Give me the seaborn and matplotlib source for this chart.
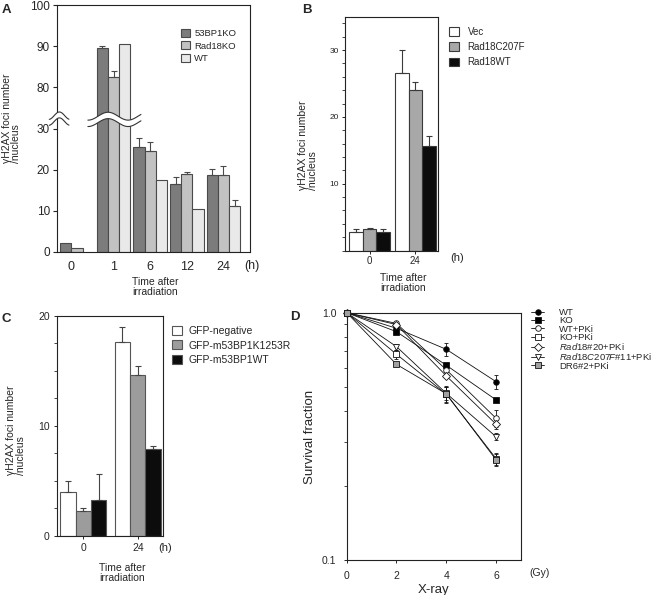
import numpy as np
import pandas as pd
import matplotlib
matplotlib.use("Agg")
import matplotlib.pyplot as plt
from matplotlib.patches import Polygon
from matplotlib.ticker import FixedLocator, NullFormatter, FixedFormatter
import seaborn as sns

sns.set_style("ticks")
plt.rcParams["font.family"] = ["Liberation Sans", "DejaVu Sans"]
plt.rcParams["mathtext.fontset"] = "custom"
plt.rcParams["mathtext.it"] = "Liberation Sans:italic"
plt.rcParams["mathtext.rm"] = "Liberation Sans"
plt.rcParams["axes.linewidth"] = 0.8
plt.rcParams["axes.edgecolor"] = "#222222"

# ---------------- data ----------------
# Panel A
a_times = ["0", "1", "6", "12", "24"]
a_groups = ["53BP1KO", "Rad18KO", "WT"]
a_53bp1ko = [2.1, 89.6, 25.4, 16.5, 18.6]
a_rad18ko = [0.9, 82.6, 24.6, 18.9, 18.6]
a_wt = [np.nan, 90.6, 17.4, 10.3, 11.2]
a_53bp1ko_err = [0.0, 0.6, 2.4, 1.8, 1.6]
a_rad18ko_err = [0.0, 1.4, 2.0, 0.6, 2.2]
a_wt_err = [0.0, 0.0, 0.0, 0.0, 1.5]
a_yticks = [0, 10, 20, 30, 80, 90, 100]

# Panel B
b_times = ["0", "24"]
b_groups = ["Vec", "Rad18C207F", "Rad18WT"]
b_vec = [2.8, 26.5]
b_c207f = [3.2, 24.0]
b_wt = [2.8, 15.7]
b_vec_err = [0.4, 3.5]
b_c207f_err = [0.2, 1.2]
b_wt_err = [0.4, 1.5]

# Panel C
c_times = ["0", "24"]
c_groups = ["GFP-negative", "GFP-m53BP1K1253R", "GFP-m53BP1WT"]
c_neg = [3.96, 17.6]
c_k1253r = [2.28, 14.6]
c_wt = [3.26, 7.9]
c_neg_err = [1.05, 1.4]
c_k1253r_err = [0.22, 0.8]
c_wt_err = [2.35, 0.3]

# Panel D
d_dose = [0, 2, 4, 6]
d_labels = ["WT", "KO", "WT+PKi", "KO+PKi",
            r"$\mathit{Rad18}$#20+PKi", r"$\mathit{Rad18C207F}$#11+PKi", "DR6#2+PKi"]
d_wt = [1.0, 0.865, 0.711, 0.526]
d_ko = [1.0, 0.838, 0.613, 0.444]
d_wt_pki = [1.0, 0.905, 0.588, 0.374]
d_ko_pki = [1.0, 0.679, 0.468, 0.257]
d_rad18_20 = [1.0, 0.895, 0.555, 0.354]
d_c207f_11 = [1.0, 0.729, 0.472, 0.315]
d_dr6 = [1.0, 0.618, 0.470, 0.254]
d_wt_err = [0, 0, 0.04, 0.035]
d_ko_err = [0, 0.01, 0.015, 0]
d_wt_pki_err = [0, 0, 0, 0.03]
d_ko_pki_err = [0, 0.03, 0.035, 0.015]
d_rad18_20_err = [0, 0, 0, 0.015]
d_c207f_11_err = [0, 0.02, 0.03, 0.01]
d_dr6_err = [0, 0, 0.035, 0.015]

# ---------------- figure ----------------
W, H = 669, 595
fig = plt.figure(figsize=(W / 100, H / 100), dpi=100)


def rect(l, r, t, b):
    return [l / W, 1 - b / H, (r - l) / W, (b - t) / H]


def fx(px):
    return px / W


def fy(py):
    return 1 - py / H


def long_df(cats, groups, series):
    rows = []
    for g, vals in zip(groups, series):
        for c, v in zip(cats, vals):
            rows.append({"time": c, "group": g, "value": v})
    return pd.DataFrame(rows)


def bar_panel(ax, cats, groups, series, errs, palette, width, edge, ecolor):
    df = long_df(cats, groups, series).dropna()
    sns.barplot(data=df, x="time", y="value", hue="group", order=cats,
                hue_order=groups, palette=palette, saturation=1, width=width,
                edgecolor=edge, linewidth=0.8, errorbar=None, ax=ax, zorder=2)
    for cont, g in zip(ax.containers, groups):
        e_list = errs[groups.index(g)]
        for bar in cont:
            cx = bar.get_x() + bar.get_width() / 2
            ci = int(round(cx))
            e = e_list[ci]
            if e > 0:
                ax.errorbar(cx, bar.get_height(), yerr=[[0], [e]], fmt="none",
                            ecolor=ecolor, elinewidth=0.8, capsize=2,
                            capthick=0.8, zorder=3)


# ---------------- Panel A ----------------
def fwd(v):
    v = np.asarray(v, dtype=float)
    return np.where(v <= 30, v, np.where(v >= 80, v - 40, 30 + (v - 30) * 0.2))


def inv(d):
    d = np.asarray(d, dtype=float)
    return np.where(d <= 30, d, np.where(d >= 40, d + 40, 30 + (d - 30) * 5))


axA = fig.add_axes(rect(57, 250, 5.3, 251.7))
axA.set_yscale("function", functions=(fwd, inv))
bar_panel(axA, a_times, a_groups, [a_53bp1ko, a_rad18ko, a_wt],
          [a_53bp1ko_err, a_rad18ko_err, a_wt_err],
          {"53BP1KO": "#7c7c7c", "Rad18KO": "#c2c2c2", "WT": "#e9e9e9"},
          0.92, "#4a4a4a", "#4a4a4a")
axA.set_ylim(0, 100)
axA.set_xlim(-0.55, 4.73)
axA.yaxis.set_major_locator(FixedLocator(a_yticks))
axA.yaxis.set_major_formatter(FixedFormatter([str(t) for t in a_yticks]))
axA.yaxis.set_minor_locator(FixedLocator([]))
axA.set_xticks([-0.16, 1, 2, 3, 4])
axA.set_xticklabels(a_times)
axA.tick_params(axis="y", labelsize=8.5, length=3, width=0.8, pad=2)
axA.tick_params(axis="x", labelsize=9, length=0, pad=7)
axA.set_xlabel("")
axA.set_ylabel("")
sns.move_legend(axA, "upper left", bbox_to_anchor=(0.645, 0.905), title=None,
                frameon=False, fontsize=6.8, handlelength=0.9, handleheight=0.9,
                handletextpad=0.45, labelspacing=0.38, borderpad=0, borderaxespad=0)
axA.text(1.01, -0.058, "(h)", transform=axA.transAxes, ha="center", va="center", fontsize=9)
axA.text(0.508, -0.145, "Time after\nirradiation", transform=axA.transAxes,
         ha="center", va="center", fontsize=7.5, linespacing=1.0)


def squiggle(ax, x0, x1, yc, amp, half, period, phase):
    xs = np.linspace(x0, x1, 120)
    base = yc + amp * np.sin(2 * np.pi * (xs - phase) / period)
    verts = np.column_stack([np.r_[xs, xs[::-1]], np.r_[base - half, (base + half)[::-1]]])
    ax.add_patch(Polygon(verts, closed=True, facecolor="white", edgecolor="none",
                         transform=ax.transAxes, zorder=6, clip_on=False))
    for s in (-half, half):
        ax.plot(xs, base + s, color="#333333", lw=0.8, transform=ax.transAxes,
                zorder=7, clip_on=False)


squiggle(axA, 0.16, 0.435, 0.537, 0.016, 0.013, 0.207, 0.213)
squiggle(axA, -0.04, 0.062, 0.54, 0.015, 0.012, 0.11, -0.015)

# ---------------- Panel B ----------------
axB = fig.add_axes(rect(345, 438.3, 16.7, 250.5))
bar_panel(axB, b_times, b_groups, [b_vec, b_c207f, b_wt],
          [b_vec_err, b_c207f_err, b_wt_err],
          {"Vec": "#ffffff", "Rad18C207F": "#a8a8a8", "Rad18WT": "#0c0c0c"},
          0.89, "#3a3a3a", "#3a3a3a")
axB.set_ylim(0, 35)
axB.set_xlim(-0.54, 1.5)
axB.set_yticks([10, 20, 30])
axB.yaxis.set_minor_locator(FixedLocator(np.arange(0, 35, 2)))
axB.tick_params(axis="y", labelsize=6, length=2.5, width=0.7, pad=2)
axB.tick_params(axis="y", which="minor", length=2, width=0.6)
axB.tick_params(axis="x", labelsize=7, length=2, width=0.7, pad=2)
axB.set_xlabel("")
axB.set_ylabel("")
sns.move_legend(axB, "upper left", bbox_to_anchor=(1.115, 0.958), title=None,
                frameon=False, fontsize=7, handlelength=1.0, handleheight=1.0,
                handletextpad=0.9, labelspacing=0.55, borderpad=0, borderaxespad=0)
axB.text(1.2, -0.032, "(h)", transform=axB.transAxes, ha="center", va="center", fontsize=8)
axB.text(0.62, -0.137, "Time after\nirradiation", transform=axB.transAxes,
         ha="center", va="center", fontsize=7.5, linespacing=1.0)

# ---------------- Panel C ----------------
axC = fig.add_axes(rect(57.3, 163.3, 315.7, 535.7))
bar_panel(axC, c_times, c_groups, [c_neg, c_k1253r, c_wt],
          [c_neg_err, c_k1253r_err, c_wt_err],
          {"GFP-negative": "#ffffff", "GFP-m53BP1K1253R": "#9c9c9c", "GFP-m53BP1WT": "#0c0c0c"},
          0.845, "#555555", "#444444")
axC.set_ylim(0, 20)
axC.set_xlim(-0.48, 1.47)
axC.set_yticks([0, 10, 20])
axC.yaxis.set_minor_locator(FixedLocator(np.arange(0, 20.1, 2.5)))
axC.tick_params(axis="y", labelsize=7.5, length=2.5, width=0.7, pad=3)
axC.tick_params(axis="y", which="minor", length=2, width=0.6)
axC.tick_params(axis="x", labelsize=7.5, length=2, width=0.7, pad=3)
axC.set_xlabel("")
axC.set_ylabel("")
sns.move_legend(axC, "upper left", bbox_to_anchor=(1.082, 0.952), title=None,
                frameon=False, fontsize=7.5, handlelength=0.95, handleheight=0.95,
                handletextpad=0.6, labelspacing=0.4, borderpad=0, borderaxespad=0)
axC.text(1.016, -0.056, "(h)", transform=axC.transAxes, ha="center", va="center", fontsize=8)
axC.text(0.615, -0.17, "Time after\nirradiation", transform=axC.transAxes,
         ha="center", va="center", fontsize=7.5, linespacing=1.0)

# ---------------- Panel D ----------------
axD = fig.add_axes(rect(346.7, 521, 312.7, 560))
axD.set_yscale("log")
d_series = [d_wt, d_ko, d_wt_pki, d_ko_pki, d_rad18_20, d_c207f_11, d_dr6]
d_errs = [d_wt_err, d_ko_err, d_wt_pki_err, d_ko_pki_err, d_rad18_20_err,
          d_c207f_11_err, d_dr6_err]
d_markers = ["o", "s", "o", "s", "D", "v", "s"]
d_mfc = ["black", "black", "white", "white", "white", "white", "#a0a0a0"]
d_msize = [4, 4, 4, 4, 3.6, 4.2, 4]
for lab, vals, errs, mk, mfc, ms in zip(d_labels, d_series, d_errs, d_markers, d_mfc, d_msize):
    sns.lineplot(x=d_dose, y=vals, ax=axD, color="#111111", lw=0.6, marker=mk,
                 markersize=ms, markerfacecolor=mfc, markeredgecolor="#111111",
                 markeredgewidth=0.6, label=lab, clip_on=False, zorder=3)
    ex = [d for d, e in zip(d_dose, errs) if e > 0]
    ey = [v for v, e in zip(vals, errs) if e > 0]
    ee = [e for e in errs if e > 0]
    if ex:
        axD.errorbar(ex, ey, yerr=ee, fmt="none", ecolor="#111111", elinewidth=0.6,
                     capsize=1.6, capthick=0.6, zorder=2)
axD.set_xlim(0, 7)
axD.set_ylim(0.1, 1.0)
axD.set_xticks([0, 2, 4, 6])
axD.yaxis.set_major_locator(FixedLocator([0.1, 1.0]))
axD.yaxis.set_major_formatter(FixedFormatter(["0.1", "1.0"]))
axD.yaxis.set_minor_locator(FixedLocator([0.2, 0.3, 0.4, 0.5, 0.6, 0.7, 0.8, 0.9]))
axD.yaxis.set_minor_formatter(NullFormatter())
axD.tick_params(axis="y", labelsize=7.5, length=2.5, width=0.7, pad=5)
axD.tick_params(axis="y", which="minor", length=2.5, width=0.6)
axD.tick_params(axis="x", labelsize=7.5, length=2, width=0.7, pad=6)
axD.set_xlabel("X-ray", fontsize=9.5, labelpad=2)
axD.set_ylabel("")
axD.legend(loc="upper left", bbox_to_anchor=(1.06, 1.018), frameon=False,
           fontsize=6.8, handlelength=1.35, handletextpad=1.6, labelspacing=-0.08,
           borderpad=0, borderaxespad=0, numpoints=1)
axD.text(1.109, -0.053, "(Gy)", transform=axD.transAxes, ha="center", va="center", fontsize=7.5)

# ---------------- labels ----------------
ylab = "\u03b3H2AX foci number\n/nucleus"
fig.text(fx(11.5), fy(118), ylab, rotation=90, ha="center", va="center",
         multialignment="left", fontsize=7.5, linespacing=0.95)
fig.text(fx(308), fy(145), ylab, rotation=90, ha="center", va="center",
         multialignment="left", fontsize=7.5, linespacing=0.95)
fig.text(fx(16), fy(430), ylab, rotation=90, ha="center", va="center",
         multialignment="left", fontsize=7.5, linespacing=0.95)
fig.text(fx(310), fy(437), "Survival fraction", rotation=90, ha="center",
         va="center", fontsize=9.5)

for lab, x, y in [("A", 2, 4), ("B", 302, 4), ("C", 1, 313), ("D", 290, 311)]:
    fig.text(fx(x), fy(y), lab, ha="left", va="top", fontsize=9.5, fontweight="bold")

fig.savefig("out.png", dpi=100, facecolor="white")
